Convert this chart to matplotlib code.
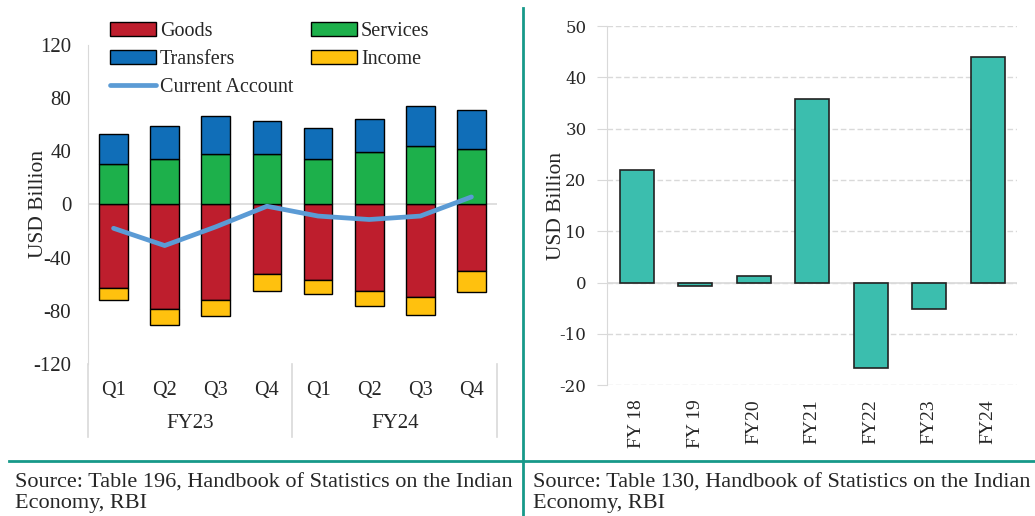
import matplotlib
matplotlib.use('Agg')
import matplotlib.pyplot as plt
import matplotlib.transforms as mtransforms
from matplotlib.lines import Line2D
import numpy as np

plt.rcParams['font.family'] = ['Liberation Serif', 'DejaVu Serif']
plt.rcParams['axes.unicode_minus'] = False

# left chart: current account components, USD billion
quarters = ['Q1', 'Q2', 'Q3', 'Q4', 'Q1', 'Q2', 'Q3', 'Q4']
years = ['FY23', 'FY24']
goods = [-62.8, -78.3, -71.5, -52.3, -57.0, -64.8, -69.5, -50.0]
income = [-8.7, -12.5, -12.3, -12.5, -10.3, -11.5, -13.5, -15.8]
services = [30.7, 34.0, 38.2, 38.2, 34.0, 39.5, 44.0, 41.5]
transfers = [22.3, 24.7, 28.3, 24.8, 23.5, 24.7, 30.0, 29.5]
current_account = [-17.9, -30.9, -16.8, -1.3, -8.7, -11.3, -8.7, 5.7]

# right chart: annual values, USD billion
fy_labels = ['FY 18', 'FY 19', 'FY20', 'FY21', 'FY22', 'FY23', 'FY24']
fy_values = [22.0, -0.6, 1.3, 35.8, -16.7, -5.2, 44.0]

c_goods = '#BE1E2D'
c_services = '#1DB04B'
c_transfers = '#106EB8'
c_income = '#FFC10E'
c_line = '#5B9BD5'
c_teal = '#3BBEAE'
c_frame = '#17998A'
grey = '#D9D9D9'
txt = '#262626'

fig = plt.figure(figsize=(10.35, 5.16), dpi=100)

# ---------- left chart ----------
ax1 = fig.add_axes([0.0850, 0.2946, 0.3952, 0.6182])
x = np.arange(len(quarters))
w = 0.56
ax1.bar(x, goods, w, color=c_goods, edgecolor='black', linewidth=1, label='Goods', zorder=2)
ax1.bar(x, income, w, bottom=goods, color=c_income, edgecolor='black', linewidth=1, label='Income', zorder=2)
ax1.bar(x, services, w, color=c_services, edgecolor='black', linewidth=1, label='Services', zorder=2)
ax1.bar(x, transfers, w, bottom=services, color=c_transfers, edgecolor='black', linewidth=1, label='Transfers', zorder=2)
ax1.plot(x, current_account, color=c_line, linewidth=3.4, solid_joinstyle='round',
         solid_capstyle='round', label='Current Account', zorder=3)

ax1.set_xlim(-0.5, len(quarters) - 0.5)
ax1.set_ylim(-120, 120)
ax1.set_yticks(range(-120, 121, 40))
ax1.set_xticks(x, labels=quarters)
ax1.tick_params(axis='x', length=0, pad=12, labelsize=14.5, labelcolor=txt)
ax1.tick_params(axis='y', length=0, pad=12, labelsize=15, labelcolor=txt)
for s in ['top', 'right', 'bottom']:
    ax1.spines[s].set_visible(False)
ax1.spines['left'].set_color(grey)
ax1.spines['left'].set_bounds(-120, 120)
ax1.axhline(0, color=grey, linewidth=1.2, zorder=1)
ax1.set_ylabel('USD Billion', fontsize=15.5, color=txt)
ax1.yaxis.set_label_coords(-0.098, 0.5)

# two-level category axis
trans = mtransforms.blended_transform_factory(ax1.transData, ax1.transAxes)
for xs in [-0.5, 3.5, 7.5]:
    ax1.plot([xs, xs], [0, -0.229], transform=trans, color=grey, linewidth=1.2, clip_on=False)
for i, yr in enumerate(years):
    ax1.text(1.5 + 4 * i, -0.187, yr, transform=trans, ha='center', va='center',
             fontsize=15, color=txt)

h, l = ax1.get_legend_handles_labels()
order = ['Goods', 'Transfers', 'Current Account', 'Services', 'Income']
hd = dict(zip(l, h))
fig.legend([hd[k] for k in order], order, loc='upper left', bbox_to_anchor=(0.106, 0.958),
           ncol=2, frameon=False, fontsize=14.5, handlelength=2.3, handletextpad=0.2,
           columnspacing=0.85, labelspacing=0.45, borderpad=0, borderaxespad=0,
           labelcolor=txt)

# ---------- right chart ----------
ax2 = fig.add_axes([0.5868, 0.2533, 0.3958, 0.6963])
xr = np.arange(len(fy_labels))
ax2.bar(xr, fy_values, 0.58, color=c_teal, edgecolor='#222222', linewidth=1.2, zorder=2)
ax2.set_xlim(-0.5, len(fy_labels) - 0.5)
ax2.set_ylim(-20, 50)
ax2.set_yticks(range(-20, 51, 10))
ax2.yaxis.grid(True, linestyle=(0, (4, 2)), color=grey, linewidth=1)
ax2.set_axisbelow(True)
ax2.axhline(0, color=grey, linewidth=1.2, zorder=1)
ax2.set_xticks(xr, labels=fy_labels, rotation=90)
ax2.tick_params(axis='x', length=0, pad=10, labelsize=14, labelcolor=txt)
ax2.tick_params(axis='y', length=7, color=grey, pad=8, labelcolor=txt)
for lab in ax2.get_yticklabels():
    lab.set_fontfamily('DejaVu Serif')
    lab.set_fontsize(12)
for s in ['top', 'right', 'bottom']:
    ax2.spines[s].set_visible(False)
ax2.spines['left'].set_color(grey)
ax2.set_ylabel('USD Billion', fontsize=15.5, color=txt)
ax2.yaxis.set_label_coords(-0.10, 0.5)

# ---------- frame lines and sources ----------
fig.add_artist(Line2D([0.0087, 1.0], [0.1066, 0.1066], transform=fig.transFigure,
                      color=c_frame, linewidth=2))
fig.add_artist(Line2D([0.5053, 0.5053], [0.0, 0.9845], transform=fig.transFigure,
                      color=c_frame, linewidth=2))

src_left = 'Source: Table 196, Handbook of Statistics on the Indian\nEconomy, RBI'
src_right = 'Source: Table 130, Handbook of Statistics on the Indian\nEconomy, RBI'
fig.text(0.0145, 0.083, src_left, ha='left', va='top', fontsize=16, color=txt, linespacing=1.1)
fig.text(0.515, 0.083, src_right, ha='left', va='top', fontsize=16, color=txt, linespacing=1.1)

fig.savefig('out.png', dpi=100)
